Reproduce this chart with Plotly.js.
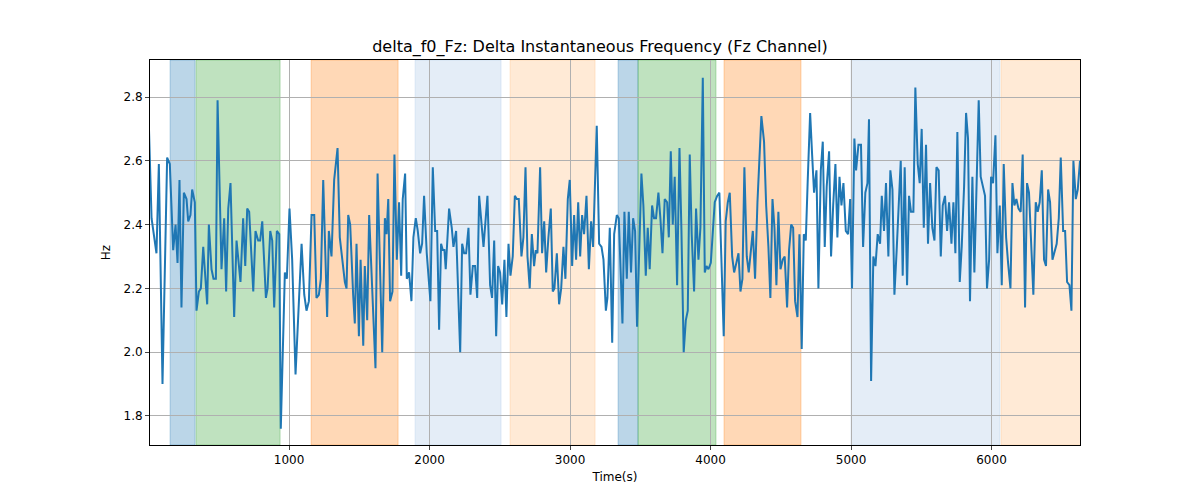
<!DOCTYPE html>
<html>
<head>
<meta charset="utf-8">
<script src="https://cdn.plot.ly/plotly-3.0.1.min.js"></script>
<style>body{margin:0;background:#fff}#chart{width:1200px;height:500px}</style>
</head>
<body>
<div id="chart"></div>
<script>
// time (s) and delta f0 (Hz)
var timeS = [0,21,56,73,99,132,151,175,192,206,220,234,251,270,282,298,310,329,341,358,372,389,417,429,448,462,479,491,519,538,552,567,583,609,626,654,673,688,702,716,745,761,780,794,809,835,847,866,880,894,913,930,941,970,984,1003,1022,1046,1089,1108,1124,1141,1160,1179,1195,1212,1226,1243,1271,1283,1302,1321,1345,1361,1397,1409,1421,1435,1456,1468,1480,1497,1509,1528,1539,1556,1570,1615,1630,1663,1682,1694,1706,
  1719,1736,1750,1767,1783,1798,1809,1826,1838,1854,1871,1885,1902,1916,1933,1947,1961,1980,2006,2023,2040,2054,2068,2082,2094,2106,2115,2139,2158,2170,2189,2218,2232,2246,2260,2277,2291,2308,2324,2339,2353,2384,2412,2431,2445,2460,2474,2488,2502,2517,2533,2547,2562,2576,2592,2607,2621,2635,2654,2668,2683,2697,2713,2728,2744,2756,2768,2787,2801,2816,2830,2846,2863,2877,2889,2906,2922,2937,2953,2967,2984,2998,3015,3029,3043,3058,3072,3086,3100,3117,3134,3150,3164,3190,3207,3224,3238,3255,3266,3283,3300,3314,3333,3347,
  3373,3387,3404,3418,3434,3449,3463,3477,3508,3522,3539,3553,3567,3584,3598,3612,3629,3643,3658,3674,3691,3703,3717,3731,3745,3762,3779,3793,3809,3824,3838,3852,3866,3883,3897,3914,3928,3945,3959,3971,3985,4002,4030,4047,4063,4094,4108,4123,4137,4154,4168,4184,4199,4213,4227,4241,4258,4272,4286,4301,4317,4334,4362,4381,4396,4412,4426,4441,4455,4469,4483,4498,4514,4528,4545,4559,4574,4588,4602,4619,4633,4649,4664,4678,4692,4709,4723,4737,4754,4768,4785,4799,4813,4827,4844,4858,4873,4889,4903,4918,4932,4946,4963,4979,4994,
  5007,5024,5036,5053,5071,5086,5102,5117,5128,5143,5159,5174,5190,5207,5219,5235,5249,5266,5280,5295,5309,5325,5340,5354,5368,5382,5399,5413,5427,5444,5458,5475,5489,5503,5518,5534,5548,5563,5579,5594,5608,5624,5639,5653,5669,5684,5698,5715,5729,5743,5757,5774,5788,5805,5819,5833,5847,5864,5878,5895,5909,5923,5954,5968,5983,5997,6011,6028,6042,6059,6073,6087,6104,6118,6135,6149,6163,6177,6192,6208,6222,6239,6253,6267,6298,6315,6329,6343,6358,6374,6388,6403,6417,6434,6448,6464,6479,6493,6510,6524,6538,6555,6569,6583,6600,6614,6630];
var deltaF0 = [2.74,2.42,2.31,2.59,1.90,2.61,2.59,2.32,2.40,2.28,2.54,2.14,2.50,2.48,2.41,2.43,2.51,2.47,2.13,2.19,2.20,2.33,2.15,2.40,2.26,2.23,2.23,2.79,2.26,2.42,2.19,2.45,2.53,2.11,2.35,2.22,2.42,2.27,2.45,2.44,2.19,2.38,2.35,2.35,2.41,2.17,2.20,2.38,2.35,2.14,2.38,2.37,1.76,2.25,2.23,2.45,2.29,1.93,2.34,2.18,2.13,2.16,2.43,2.43,2.17,2.18,2.23,2.54,2.11,2.38,2.30,2.54,2.64,2.36,2.22,2.20,2.43,2.40,2.18,2.09,2.34,2.05,2.29,2.02,2.27,2.10,2.43,1.95,2.56,2.00,2.42,2.37,2.48,
  2.16,2.19,2.62,2.29,2.47,2.24,2.48,2.56,2.23,2.25,2.16,2.36,2.42,2.38,2.31,2.34,2.49,2.31,2.16,2.58,2.38,2.38,2.07,2.34,2.32,2.32,2.26,2.45,2.39,2.33,2.38,2.00,2.34,2.31,2.31,2.39,2.18,2.27,2.27,2.17,2.49,2.33,2.49,2.21,2.17,2.35,2.05,2.27,2.25,2.15,2.29,2.11,2.34,2.24,2.30,2.49,2.48,2.48,2.30,2.36,2.58,2.30,2.20,2.37,2.27,2.32,2.31,2.58,2.31,2.41,2.25,2.36,2.45,2.19,2.20,2.31,2.15,2.20,2.33,2.23,2.48,2.54,2.27,2.43,2.29,2.47,2.30,2.43,2.37,2.49,2.26,2.41,2.33,2.71,2.34,2.33,2.29,2.13,2.17,2.39,2.03,2.37,2.43,2.42,
  2.09,2.44,2.23,2.44,2.25,2.42,2.38,2.08,2.56,2.46,2.24,2.39,2.26,2.46,2.42,2.42,2.50,2.42,2.31,2.48,2.47,2.36,2.63,2.40,2.55,2.21,2.64,2.38,2.00,2.10,2.13,2.62,2.37,2.19,2.45,2.29,2.39,2.86,2.25,2.27,2.26,2.28,2.47,2.49,2.50,2.05,2.41,2.47,2.50,2.30,2.25,2.28,2.31,2.19,2.23,2.58,2.30,2.25,2.31,2.38,2.23,2.47,2.74,2.66,2.46,2.33,2.17,2.48,2.39,2.21,2.44,2.26,2.29,2.30,2.14,2.32,2.40,2.39,2.16,2.11,2.37,2.01,2.37,2.35,2.54,2.75,2.62,2.50,2.57,2.20,2.57,2.66,2.33,2.52,2.63,2.30,2.46,2.59,2.36,2.55,2.46,2.53,2.38,2.37,2.48,
  2.20,2.67,2.57,2.65,2.65,2.33,2.50,2.53,2.73,1.91,2.30,2.27,2.37,2.34,2.49,2.38,2.53,2.30,2.57,2.51,2.18,2.32,2.49,2.60,2.24,2.58,2.21,2.49,2.44,2.44,2.83,2.59,2.53,2.70,2.39,2.65,2.34,2.53,2.39,2.35,2.58,2.57,2.30,2.46,2.49,2.38,2.47,2.34,2.47,2.31,2.69,2.22,2.33,2.52,2.75,2.67,2.16,2.55,2.25,2.56,2.79,2.55,2.49,2.20,2.29,2.55,2.53,2.68,2.31,2.46,2.21,2.59,2.36,2.28,2.20,2.53,2.46,2.48,2.45,2.44,2.62,2.14,2.53,2.50,2.18,2.47,2.44,2.47,2.57,2.29,2.27,2.51,2.47,2.29,2.31,2.34,2.42,2.61,2.38,2.38,2.22,2.21,2.13,2.60,2.48,2.51,2.60];

// shaded segments: start, end, colour
var segStart = [153, 338, 1157, 1897, 2573, 3342, 3484, 4096, 5000, 6068];
var segEnd   = [331, 936, 1776, 2509, 3178, 3484, 4039, 4644, 6060, 6640];
var segColor = ['rgba(31,119,180,0.3)','rgba(44,160,44,0.3)','rgba(255,127,14,0.3)','rgba(174,199,232,0.33)','rgba(255,187,120,0.3)',
                'rgba(31,119,180,0.3)','rgba(44,160,44,0.3)','rgba(255,127,14,0.3)','rgba(174,199,232,0.33)','rgba(255,187,120,0.3)'];

var shapes = segStart.map(function(s, i){
  return {type:'rect', xref:'x', yref:'paper', x0:s, x1:segEnd[i], y0:0, y1:1,
          fillcolor:segColor[i], line:{width:1, color:segColor[i]}, layer:'below'};
});

var data = [{x:timeS, y:deltaF0, type:'scatter', mode:'lines', line:{color:'#1f77b4', width:2}}];

var layout = {
  width:1200, height:500,
  margin:{l:150, r:120, t:60, b:55},
  paper_bgcolor:'#fff', plot_bgcolor:'#fff',
  font:{family:'DejaVu Sans', size:12, color:'#000'},
  title:{text:'delta_f0_Fz: Delta Instantaneous Frequency (Fz Channel)', x:0.5, xanchor:'center', y:0.908, yanchor:'middle', font:{size:16}},
  showlegend:false,
  shapes:shapes,
  xaxis:{
    range:[10, 6630], tickvals:[1000,2000,3000,4000,5000,6000],
    title:{text:'Time(s)', font:{size:12}, standoff:6},
    showgrid:true, gridcolor:'#b0b0b0', gridwidth:1, zeroline:false,
    showline:true, linecolor:'#000', mirror:true, ticks:'outside', ticklen:4
  },
  yaxis:{
    range:[1.709, 2.916], tickvals:[1.8,2.0,2.2,2.4,2.6,2.8], tickformat:'.1f',
    title:{text:'Hz', font:{size:12}, standoff:10},
    showgrid:true, gridcolor:'#b0b0b0', gridwidth:1, zeroline:false,
    showline:true, linecolor:'#000', mirror:true, ticks:'outside', ticklen:4
  }
};

Plotly.newPlot('chart', data, layout, {displayModeBar:false, staticPlot:true});
</script>
</body>
</html>
